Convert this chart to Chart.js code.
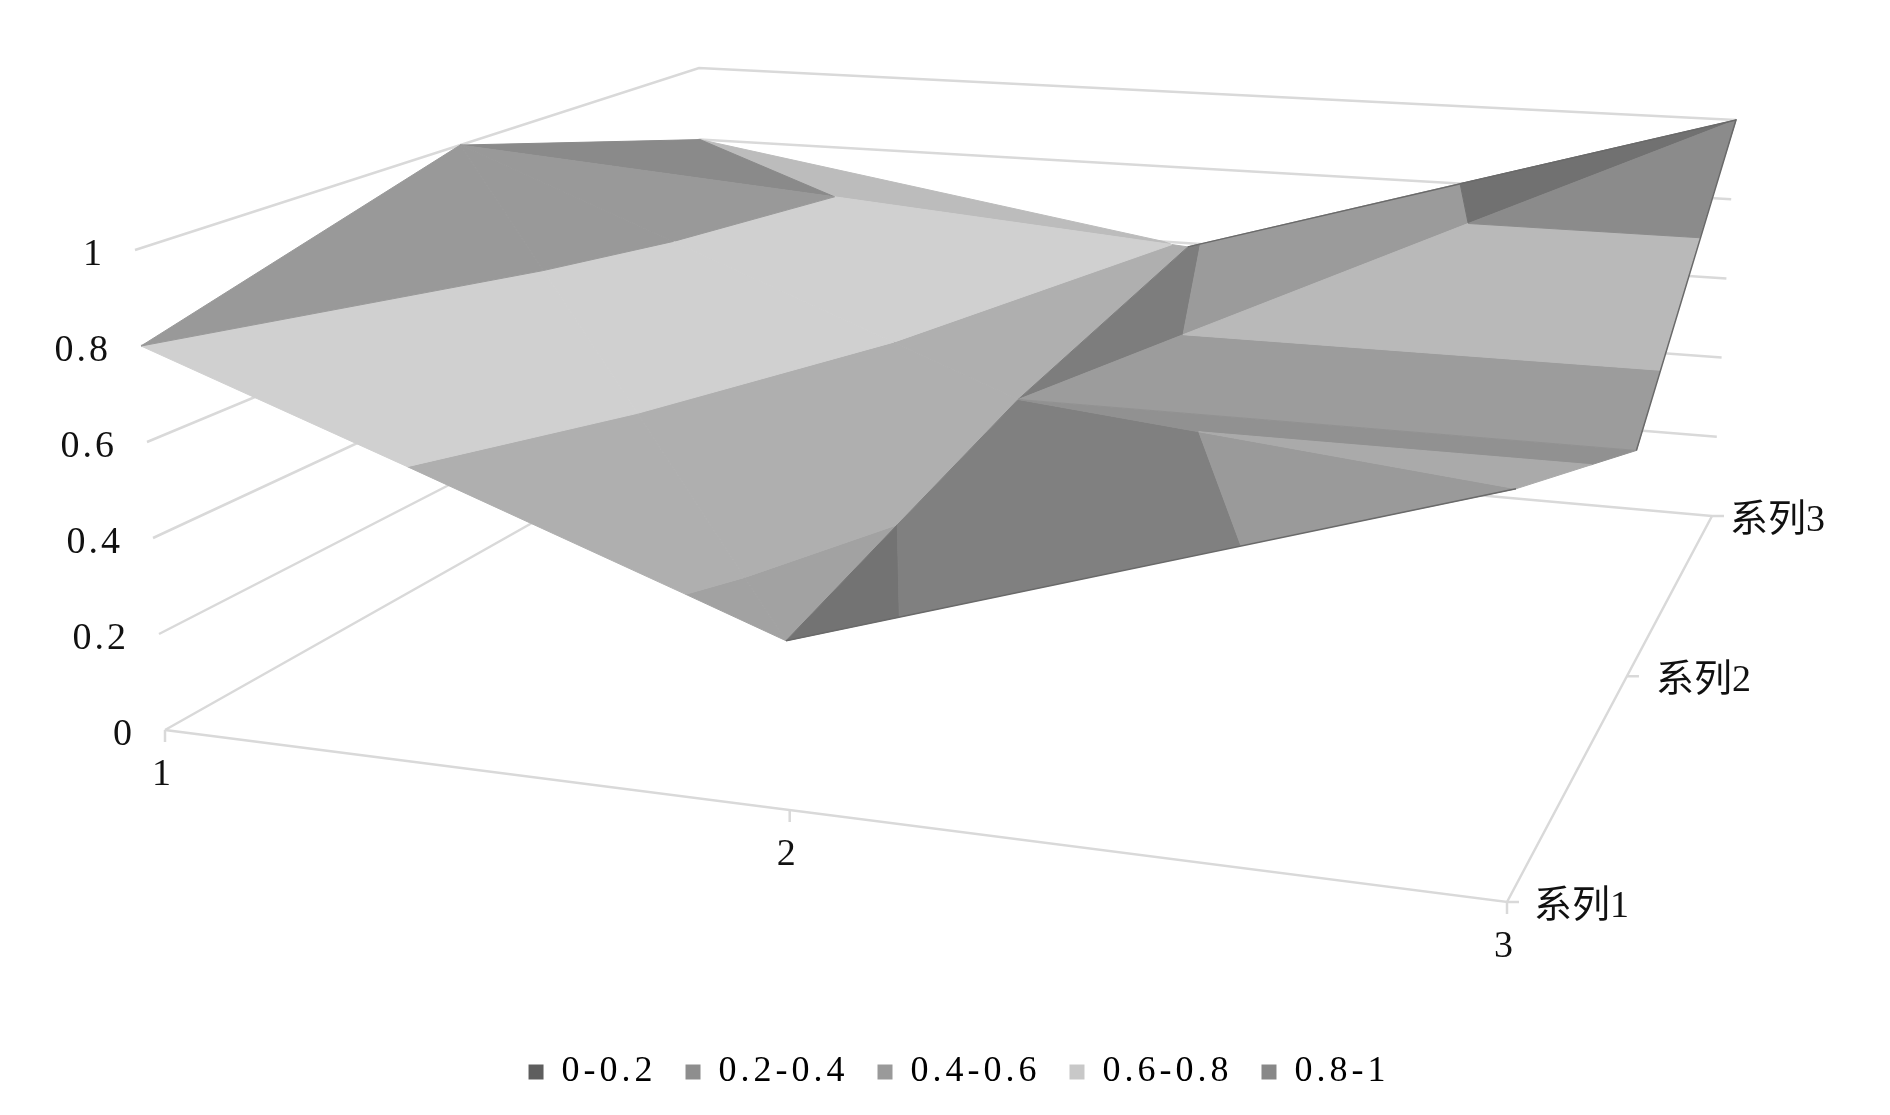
<!DOCTYPE html>
<html>
<head>
<meta charset="utf-8">
<style>
  html, body { margin: 0; padding: 0; background: #fff; }
  canvas { display: block; }
</style>
<script src="https://cdn.jsdelivr.net/npm/chart.js@4/dist/chart.umd.min.js"></script>
</head>
<body>
<canvas id="chart-superficie" width="1890" height="1115"></canvas>
<script>
// Datos
var categories = ['1', '2', '3'];
var seriesNames = ['系列1', '系列2', '系列3'];
var series1 = [0.8, 0.33, 0.75];
var series2 = [1, 0.49, 0.49];
var series3 = [0.8, 0.59, 1];
var zTicks = [0, 0.2, 0.4, 0.6, 0.8, 1];
var zTickLabels = ['0', '0.2', '0.4', '0.6', '0.8', '1'];
var bandLabels = ['0-0.2', '0.2-0.4', '0.4-0.6', '0.6-0.8', '0.8-1'];

var bandSwatches = ['#5e5e5e', '#8e8e8e', '#9a9a9a', '#c8c8c8', '#888888'];
var gridColor = '#d9d9d9';
var edgeColor = '#6a6a6a';
var textColor = '#111111';
var numberFont = '38px "Liberation Serif"';
var seriesFont = '38px "Liberation Serif", "Noto Sans CJK SC"';
var seriesLabelGap = [27, 29, 18];

// Caja 3D: esquinas del suelo y del techo (front-left, front-right, back-right, back-left)
var floorCorners = [[165, 730], [1507, 902], [1712, 516], [704, 426]];
var topCorners = [[135, 250], [1519, 351], [1736, 120], [699, 68]];

var grid = [series1, series2, series3];

// Triangulos de la malla, [serie, categoria], con el gris de cada banda
var facets = [
  { tri: [[1, 0], [2, 0], [2, 1]], shades: [null, null, null, '#bcbcbc', '#8a8a8a'] },
  { tri: [[1, 0], [1, 1], [2, 1]], shades: [null, null, '#afafaf', '#d0d0d0', '#999999'] },
  { tri: [[1, 1], [2, 1], [2, 2]], shades: [null, null, '#7d7d7d', '#9b9b9b', '#717171'] },
  { tri: [[1, 1], [1, 2], [2, 2]], shades: [null, null, '#9c9c9c', '#b9b9b9', '#8b8b8b'] },
  { tri: [[0, 0], [0, 1], [1, 0]], shades: [null, '#a2a2a2', '#afafaf', '#d0d0d0', '#999999'] },
  { tri: [[0, 1], [1, 0], [1, 1]], shades: [null, '#a2a2a2', '#afafaf', '#d0d0d0', '#999999'] },
  { tri: [[0, 1], [0, 2], [1, 1]], shades: [null, '#737373', '#808080', '#9a9a9a', '#9a9a9a'] },
  { tri: [[0, 2], [1, 1], [1, 2]], shades: [null, null, '#919191', '#aaaaaa', '#aaaaaa'] }
];

// Bordes oscuros de la superficie, [serie, categoria]
var darkEdges = [
  [[2, 1], [2, 2], [1, 2]],
  [[0, 1], [0, 2]]
];

function squareToQuad(q) {
  var dx1 = q[1][0] - q[2][0], dx2 = q[3][0] - q[2][0], sx = q[0][0] - q[1][0] + q[2][0] - q[3][0];
  var dy1 = q[1][1] - q[2][1], dy2 = q[3][1] - q[2][1], sy = q[0][1] - q[1][1] + q[2][1] - q[3][1];
  var den = dx1 * dy2 - dx2 * dy1;
  var g = (sx * dy2 - dx2 * sy) / den;
  var h = (dx1 * sy - sx * dy1) / den;
  var a = q[1][0] - q[0][0] + g * q[1][0], b = q[3][0] - q[0][0] + h * q[3][0];
  var d = q[1][1] - q[0][1] + g * q[1][1], e = q[3][1] - q[0][1] + h * q[3][1];
  return function (u, v) {
    var w = g * u + h * v + 1;
    return [(a * u + b * v + q[0][0]) / w, (d * u + e * v + q[0][1]) / w];
  };
}

var floorMap = squareToQuad(floorCorners);
var topMap = squareToQuad(topCorners);

// u = categoria 0..1, v = serie 0..1, z = valor
function project(u, v, z) {
  var f = floorMap(u, v), t = topMap(u, v);
  return { x: f[0] + (t[0] - f[0]) * z, y: f[1] + (t[1] - f[1]) * z };
}

function gridNode(n) {
  return [n[1] / (categories.length - 1), n[0] / (seriesNames.length - 1), grid[n[0]][n[1]]];
}

// Recorta un poligono contra z >= level (sign 1) o z <= level (sign -1)
function clipZ(poly, level, sign) {
  var out = [];
  for (var i = 0; i < poly.length; i++) {
    var p = poly[i], q = poly[(i + 1) % poly.length];
    var dp = (p[2] - level) * sign, dq = (q[2] - level) * sign;
    if (dp >= 0) out.push(p);
    if ((dp > 0 && dq < 0) || (dp < 0 && dq > 0)) {
      var t = dp / (dp - dq);
      out.push([p[0] + (q[0] - p[0]) * t, p[1] + (q[1] - p[1]) * t, level]);
    }
  }
  return out;
}

function lineDataset(points, color, width) {
  return {
    data: points, borderColor: color, borderWidth: width, pointRadius: 0,
    fill: false, tension: 0
  };
}

function buildDatasets() {
  var sets = [];

  // Rejilla: pared izquierda, pared del fondo y suelo
  zTicks.forEach(function (z) {
    sets.push(lineDataset([project(0, 0, z), project(0, 1, z), project(1, 1, z)], gridColor, 2.5));
  });
  sets.push(lineDataset([project(0, 0, 0), project(1, 0, 0), project(1, 1, 0)], gridColor, 2.5));

  // Marcas de los ejes
  categories.forEach(function (c, i) {
    var p = project(i / (categories.length - 1), 0, 0);
    sets.push(lineDataset([p, { x: p.x, y: p.y + 12 }], gridColor, 2.5));
  });
  seriesNames.forEach(function (s, i) {
    var p = project(1, i / (seriesNames.length - 1), 0);
    sets.push(lineDataset([p, { x: p.x + 12, y: p.y }], gridColor, 2.5));
  });

  // Superficie: cada triangulo se corta por bandas de valor
  facets.forEach(function (facet) {
    var tri = facet.tri.map(gridNode);
    bandLabels.forEach(function (label, b) {
      var poly = clipZ(clipZ(tri, zTicks[b], 1), zTicks[b + 1], -1);
      if (poly.length < 3 || !facet.shades[b]) return;
      var pts = poly.map(function (p) { return project(p[0], p[1], p[2]); });
      pts.push(pts[0]);
      sets.push({
        label: label, data: pts, pointRadius: 0, tension: 0,
        borderColor: facet.shades[b], borderWidth: 1,
        backgroundColor: facet.shades[b], fill: 'shape'
      });
    });
  });

  darkEdges.forEach(function (edge) {
    var pts = edge.map(function (n) {
      var p = gridNode(n);
      return project(p[0], p[1], p[2]);
    });
    sets.push(lineDataset(pts, edgeColor, 1.5));
  });

  // Chart.js pinta primero el ultimo dataset
  return sets.reverse();
}

var axisText = {
  id: 'axisText',
  beforeUpdate: function (chart) { chart.ctx.letterSpacing = '4px'; },
  afterLayout: function (chart) {
    // mover la leyenda a su sitio sin tocar el area de la grafica
    chart.legend.top -= 15;
    chart.legend.bottom -= 15;
    chart.legend.left += 14;
    chart.legend.right += 14;
  },
  afterDraw: function (chart) {
    var ctx = chart.ctx, sx = chart.scales.x, sy = chart.scales.y;
    function put(text, p, dx, dy) {
      ctx.fillText(text, sx.getPixelForValue(p.x) + dx, sy.getPixelForValue(p.y) + dy);
    }
    ctx.save();
    ctx.fillStyle = textColor;
    ctx.textBaseline = 'middle';
    ctx.font = numberFont;
    ctx.letterSpacing = '3px';
    ctx.textAlign = 'right';
    zTicks.forEach(function (z, i) {
      put(zTickLabels[i], project(0, 0, z), -30, 5);
    });
    ctx.textAlign = 'center';
    categories.forEach(function (c, i) {
      put(c, project(i / (categories.length - 1), 0, 0), -2, 45);
    });
    ctx.font = seriesFont;
    ctx.textAlign = 'left';
    ctx.letterSpacing = '0px';
    seriesNames.forEach(function (s, i) {
      put(s, project(1, i / (seriesNames.length - 1), 0), seriesLabelGap[i], 5);
    });
    ctx.restore();
  }
};

var ctxSuperficie = document.getElementById('chart-superficie').getContext('2d');
var chartSuperficie = new Chart(ctxSuperficie, {
  type: 'line',
  data: { datasets: buildDatasets() },
  plugins: [axisText],
  options: {
    responsive: false,
    animation: false,
    scales: {
      x: { type: 'linear', display: false, bounds: 'data', min: 0, max: 1890 },
      y: {
        type: 'linear', display: false, bounds: 'data', reverse: true,
        afterDataLimits: function (s) { s.min = s.top; s.max = s.bottom; }
      }
    },
    plugins: {
      tooltip: { enabled: false },
      legend: {
        position: 'bottom',
        labels: {
          boxWidth: 15, boxHeight: 15, padding: 29, color: textColor,
          font: { family: '"Liberation Serif"', size: 36 },
          generateLabels: function () {
            return bandLabels.map(function (label, i) {
              return { text: label, fillStyle: bandSwatches[i], strokeStyle: bandSwatches[i], lineWidth: 0, datasetIndex: i };
            });
          }
        }
      }
    }
  }
});
</script>
</body>
</html>
